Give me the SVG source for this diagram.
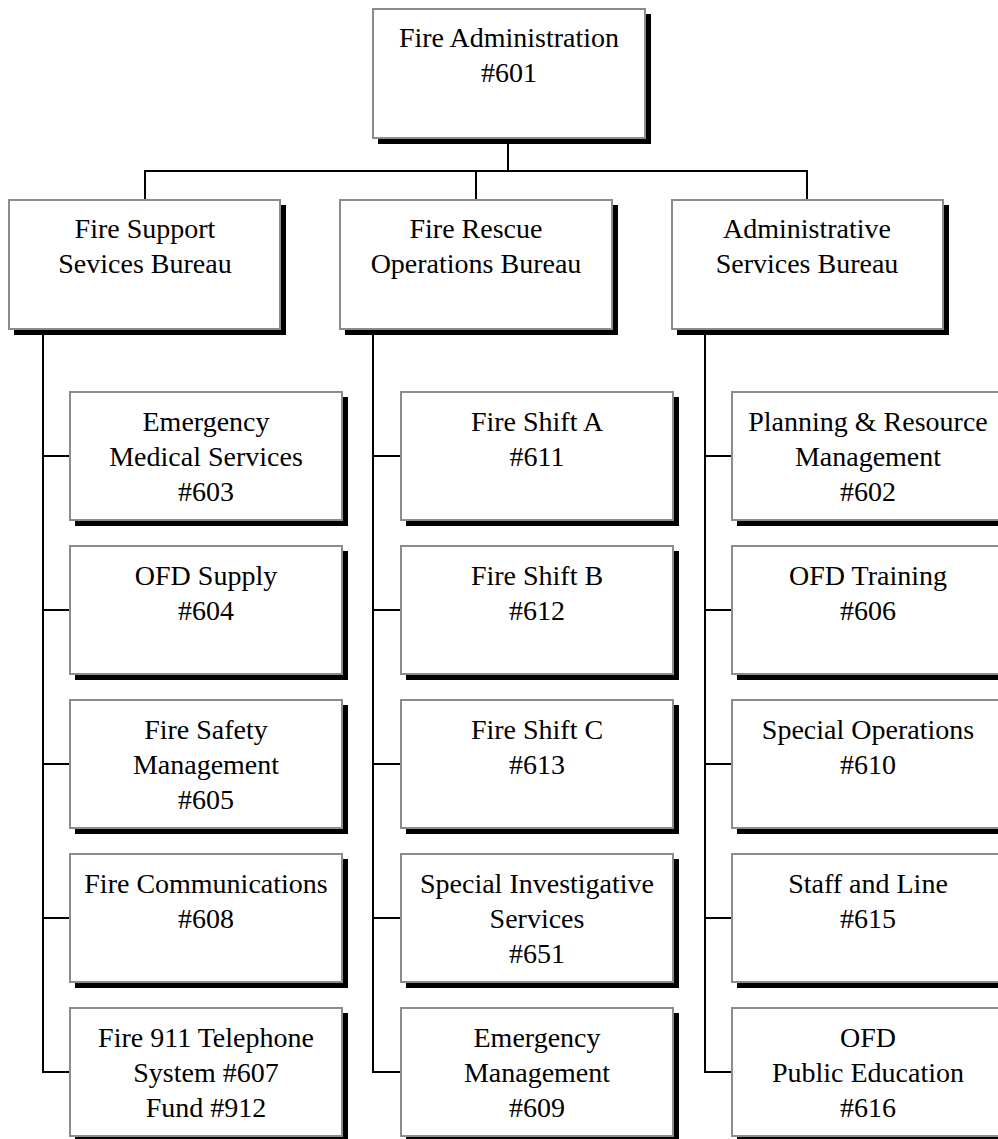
<svg xmlns="http://www.w3.org/2000/svg" width="998" height="1139" viewBox="0 0 998 1139">
  <defs>
    <style>
      .shadow { fill: #000; }
      .box { fill: #fff; stroke: #8c8c8c; stroke-width: 2; }
      .lbl { font-family: "Liberation Serif", "Times New Roman", serif; font-size: 28px; fill: #000; text-anchor: middle; }
      .wire { fill: none; stroke: #000; stroke-width: 2; }
    </style>
  </defs>
  <rect width="998" height="1139" fill="#fff"/>

  <!-- connectors -->
  <g id="connectors" class="wire">
    <path d="M508 138 V171 M145 200 V171 H807 V200 M476 171 V200"/>
    <!-- left column spine -->
    <path d="M43 329 V1072 H70 M43 456 H70 M43 610 H70 M43 764 H70 M43 918 H70"/>
    <!-- middle column spine -->
    <path d="M373 329 V1072 H401 M373 456 H401 M373 610 H401 M373 764 H401 M373 918 H401"/>
    <!-- right column spine -->
    <path d="M705 329 V1072 H732 M705 456 H732 M705 610 H732 M705 764 H732 M705 918 H732"/>
  </g>

  <!-- top -->
  <g id="n601">
    <rect class="shadow" x="378" y="14" width="273" height="130"/>
    <rect class="box" x="373" y="9" width="272" height="129"/>
    <text class="lbl" x="509" y="47">Fire Administration</text>
    <text class="lbl" x="509" y="82">#601</text>
  </g>

  <!-- bureaus -->
  <g id="support-bureau">
    <rect class="shadow" x="14" y="205" width="272" height="130"/>
    <rect class="box" x="9" y="200" width="271" height="129"/>
    <text class="lbl" x="145" y="238">Fire Support</text>
    <text class="lbl" x="145" y="273">Sevices Bureau</text>
  </g>
  <g id="operations-bureau">
    <rect class="shadow" x="345" y="205" width="273" height="130"/>
    <rect class="box" x="340" y="200" width="272" height="129"/>
    <text class="lbl" x="476" y="238">Fire Rescue</text>
    <text class="lbl" x="476" y="273">Operations Bureau</text>
  </g>
  <g id="admin-bureau">
    <rect class="shadow" x="677" y="205" width="272" height="130"/>
    <rect class="box" x="672" y="200" width="271" height="129"/>
    <text class="lbl" x="807" y="238">Administrative</text>
    <text class="lbl" x="807" y="273">Services Bureau</text>
  </g>

  <!-- left column units -->
  <g id="n603">
    <rect class="shadow" x="75" y="397" width="273" height="129"/>
    <rect class="box" x="70" y="392" width="272" height="128"/>
    <text class="lbl" x="206" y="431">Emergency</text>
    <text class="lbl" x="206" y="466">Medical Services</text>
    <text class="lbl" x="206" y="501">#603</text>
  </g>
  <g id="n604">
    <rect class="shadow" x="75" y="551" width="273" height="129"/>
    <rect class="box" x="70" y="546" width="272" height="128"/>
    <text class="lbl" x="206" y="585">OFD Supply</text>
    <text class="lbl" x="206" y="620">#604</text>
  </g>
  <g id="n605">
    <rect class="shadow" x="75" y="705" width="273" height="129"/>
    <rect class="box" x="70" y="700" width="272" height="128"/>
    <text class="lbl" x="206" y="739">Fire Safety</text>
    <text class="lbl" x="206" y="774">Management</text>
    <text class="lbl" x="206" y="809">#605</text>
  </g>
  <g id="n608">
    <rect class="shadow" x="75" y="859" width="273" height="129"/>
    <rect class="box" x="70" y="854" width="272" height="128"/>
    <text class="lbl" x="206" y="893">Fire Communications</text>
    <text class="lbl" x="206" y="928">#608</text>
  </g>
  <g id="n607">
    <rect class="shadow" x="75" y="1013" width="273" height="129"/>
    <rect class="box" x="70" y="1008" width="272" height="128"/>
    <text class="lbl" x="206" y="1047">Fire 911 Telephone</text>
    <text class="lbl" x="206" y="1082">System #607</text>
    <text class="lbl" x="206" y="1117">Fund #912</text>
  </g>

  <!-- middle column units -->
  <g id="n611">
    <rect class="shadow" x="406" y="397" width="273" height="129"/>
    <rect class="box" x="401" y="392" width="272" height="128"/>
    <text class="lbl" x="537" y="431">Fire Shift A</text>
    <text class="lbl" x="537" y="466">#611</text>
  </g>
  <g id="n612">
    <rect class="shadow" x="406" y="551" width="273" height="129"/>
    <rect class="box" x="401" y="546" width="272" height="128"/>
    <text class="lbl" x="537" y="585">Fire Shift B</text>
    <text class="lbl" x="537" y="620">#612</text>
  </g>
  <g id="n613">
    <rect class="shadow" x="406" y="705" width="273" height="129"/>
    <rect class="box" x="401" y="700" width="272" height="128"/>
    <text class="lbl" x="537" y="739">Fire Shift C</text>
    <text class="lbl" x="537" y="774">#613</text>
  </g>
  <g id="n651">
    <rect class="shadow" x="406" y="859" width="273" height="129"/>
    <rect class="box" x="401" y="854" width="272" height="128"/>
    <text class="lbl" x="537" y="893">Special Investigative</text>
    <text class="lbl" x="537" y="928">Services</text>
    <text class="lbl" x="537" y="963">#651</text>
  </g>
  <g id="n609">
    <rect class="shadow" x="406" y="1013" width="273" height="129"/>
    <rect class="box" x="401" y="1008" width="272" height="128"/>
    <text class="lbl" x="537" y="1047">Emergency</text>
    <text class="lbl" x="537" y="1082">Management</text>
    <text class="lbl" x="537" y="1117">#609</text>
  </g>

  <!-- right column units -->
  <g id="n602">
    <rect class="shadow" x="737" y="397" width="273" height="129"/>
    <rect class="box" x="732" y="392" width="272" height="128"/>
    <text class="lbl" x="868" y="431">Planning &amp; Resource</text>
    <text class="lbl" x="868" y="466">Management</text>
    <text class="lbl" x="868" y="501">#602</text>
  </g>
  <g id="n606">
    <rect class="shadow" x="737" y="551" width="273" height="129"/>
    <rect class="box" x="732" y="546" width="272" height="128"/>
    <text class="lbl" x="868" y="585">OFD Training</text>
    <text class="lbl" x="868" y="620">#606</text>
  </g>
  <g id="n610">
    <rect class="shadow" x="737" y="705" width="273" height="129"/>
    <rect class="box" x="732" y="700" width="272" height="128"/>
    <text class="lbl" x="868" y="739">Special Operations</text>
    <text class="lbl" x="868" y="774">#610</text>
  </g>
  <g id="n615">
    <rect class="shadow" x="737" y="859" width="273" height="129"/>
    <rect class="box" x="732" y="854" width="272" height="128"/>
    <text class="lbl" x="868" y="893">Staff and Line</text>
    <text class="lbl" x="868" y="928">#615</text>
  </g>
  <g id="n616">
    <rect class="shadow" x="737" y="1013" width="273" height="129"/>
    <rect class="box" x="732" y="1008" width="272" height="128"/>
    <text class="lbl" x="868" y="1047">OFD</text>
    <text class="lbl" x="868" y="1082">Public Education</text>
    <text class="lbl" x="868" y="1117">#616</text>
  </g>
</svg>
